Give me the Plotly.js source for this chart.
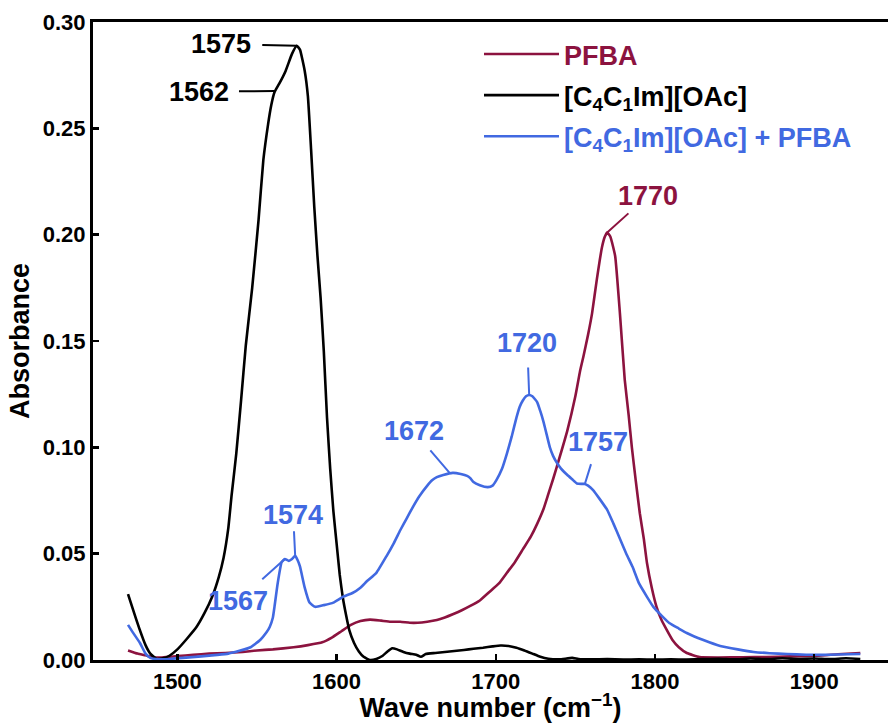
<!DOCTYPE html>
<html>
<head>
<meta charset="utf-8">
<script src="https://cdn.plot.ly/plotly-3.0.1.min.js"></script>
<style>html,body{margin:0;padding:0;background:#fff;}#chart{width:888px;height:723px;}</style>
</head>
<body>
<div id="chart"></div>
<script>
// ---- Data ----
const seriesNames = ["PFBA", "[C<sub>4</sub>C<sub>1</sub>Im][OAc]", "[C<sub>4</sub>C<sub>1</sub>Im][OAc] + PFBA"];
const seriesColors = ["#8C133F", "#000000", "#4169E1"];

const pfbaX = [1469,1475,1480,1485,1490,1495,1500,1510,1520,1530,1541,1550,1560,1573,1582,1591,1597,1603,1609,1615,1621,1628,1634,1640,1646,1651,1657,1663,1668,1673,1679,1684,1690,1696,1702,1707,1712,1717,1722,1726,1730,1733,1736,1740,1745,1750,1753,1755,1758,1760.5,1763.5,1766.7,1768.5,1770,1772,1775,1778,1781,1783.5,1785.5,1788,1790.5,1793,1795,1798,1801,1804,1807.5,1811,1815,1820,1828,1840,1855,1870,1885,1902,1915,1929];
const pfbaY = [0.0045,0.003,0.0022,0.0012,0.0012,0.0015,0.0018,0.0024,0.003,0.0033,0.0038,0.0045,0.005,0.006,0.007,0.0083,0.0105,0.0135,0.0165,0.0183,0.019,0.0185,0.018,0.018,0.0175,0.0175,0.018,0.0188,0.020,0.0215,0.0235,0.0254,0.028,0.032,0.036,0.041,0.046,0.052,0.058,0.064,0.071,0.078,0.085,0.095,0.108,0.124,0.136,0.1425,0.153,0.163,0.179,0.194,0.199,0.201,0.199,0.190,0.163,0.132,0.115,0.100,0.084,0.069,0.057,0.0456,0.034,0.025,0.019,0.014,0.0094,0.006,0.0033,0.0014,0.0012,0.0013,0.0014,0.0017,0.002,0.0027,0.0033];

const ilX = [1469,1472,1476,1480,1483,1487,1491,1495,1500,1506,1512,1517,1522,1526,1529,1532,1534,1537,1540,1543,1547,1551,1554,1557,1559,1561,1564,1568,1572,1575,1577,1580,1582,1584,1586,1588,1590,1592,1594,1596,1598,1600,1602,1604,1606,1608,1611,1614,1617,1621,1625,1629,1632,1635,1638,1642,1646,1650,1653,1656,1662,1668,1674,1680,1686,1692,1698,1703,1708,1713,1718,1723,1728,1733,1740,1748,1752,1760,1770,1780,1790,1800,1810,1820,1830,1840,1850,1860,1870,1880,1890,1900,1910,1920,1929];
const ilY = [0.031,0.024,0.015,0.007,0.003,0.0005,0.0008,0.002,0.005,0.010,0.0155,0.022,0.030,0.039,0.048,0.062,0.077,0.097,0.122,0.148,0.175,0.207,0.235,0.252,0.261,0.267,0.271,0.277,0.285,0.2888,0.287,0.277,0.265,0.240,0.213,0.190,0.170,0.145,0.114,0.090,0.070,0.055,0.040,0.029,0.021,0.014,0.008,0.004,0.0015,0.0,0.0005,0.002,0.004,0.0055,0.005,0.0038,0.003,0.0025,0.0015,0.0028,0.0033,0.0038,0.0042,0.0047,0.0053,0.0058,0.0064,0.0068,0.0066,0.0058,0.0045,0.003,0.0015,0.0006,0.0003,0.001,0.0005,0.0003,0.0004,0.0002,0.0003,0.0002,0.0003,0.0002,0.0004,0.0006,0.0003,0.0007,0.0004,0.0008,0.0005,0.0007,0.0004,0.0008,0.0005];

const mixX = [1469,1472,1476.5,1480,1483,1488,1495,1503.5,1515,1525,1532,1539,1546,1552,1556,1558,1560,1561,1563,1565.5,1567.5,1570,1572,1574,1575.5,1577,1580,1583,1586.5,1592,1598,1604,1610,1615,1619,1625,1631.5,1636,1640,1644,1648,1652,1657,1660,1663,1667,1673,1678,1682,1684,1686,1690,1695,1698,1700.5,1704,1707,1710,1713,1715,1717,1719,1721,1723,1726,1728,1730,1732,1734,1736,1738.5,1741,1745,1748,1751,1754,1756,1758,1761,1765,1770,1774,1778,1782,1786,1790,1795,1799,1804,1809,1815,1820,1830,1841,1852,1862,1872,1883,1895,1904,1915,1929];
const mixY = [0.0165,0.013,0.008,0.003,0.001,0.0003,0.0005,0.001,0.0017,0.0024,0.003,0.0043,0.006,0.0094,0.013,0.0155,0.020,0.025,0.036,0.046,0.0475,0.0466,0.0475,0.049,0.047,0.044,0.034,0.027,0.025,0.0258,0.027,0.0297,0.0315,0.034,0.037,0.041,0.049,0.055,0.061,0.0665,0.072,0.077,0.082,0.0845,0.086,0.087,0.088,0.0875,0.0866,0.0855,0.0837,0.0822,0.0813,0.082,0.0847,0.090,0.097,0.105,0.114,0.119,0.122,0.124,0.1246,0.124,0.1213,0.117,0.112,0.106,0.100,0.096,0.0926,0.090,0.087,0.085,0.083,0.0828,0.0828,0.082,0.080,0.076,0.0706,0.064,0.057,0.050,0.0437,0.036,0.0297,0.025,0.021,0.0174,0.0148,0.0127,0.0095,0.0066,0.005,0.0038,0.0032,0.0028,0.0025,0.0024,0.0026,0.0028];

// Peak labels: text, wavenumber, absorbance, series index
const peakText = ["1575","1562","1574","1567","1672","1720","1757","1770"];
const peakX    = [1575, 1561, 1574, 1567.5, 1671, 1721, 1756, 1770];
const peakY    = [0.2888, 0.2676, 0.049, 0.0475, 0.088, 0.1246, 0.0828, 0.201];
const peakSeries = [1,1,2,2,2,2,2,0];

const xTicks = [1500,1600,1700,1800,1900];
const yTicks = [0,0.05,0.10,0.15,0.20,0.25,0.30];

// ---- Layout helpers (label offsets in px) ----
const peakAx = [-76,-75,-2,-47,-36,-2,13,41];
const peakAy = [-2,1,-41,42,-42,-52,-42,-37];
const peakTailGap = [10,8,0,8,4,8,6,2];

const FONT = "Liberation Sans, Arial, Helvetica, sans-serif";

const xs = [pfbaX, ilX, mixX];
const ys = [pfbaY, ilY, mixY];
const traces = xs.map((x, i) => ({
  x: x, y: ys[i], type: "scatter", mode: "lines",
  name: '<span style="color:' + seriesColors[i] + '">' + seriesNames[i] + '</span>',
  legendgroup: "g" + i,
  line: {color: seriesColors[i], width: 2.6, shape: "spline", smoothing: 0.4}
}));

const annotations = peakText.map((t, i) => ({
  x: peakX[i], y: peakY[i], xref: "x", yref: "y",
  text: t, showarrow: true, arrowside: "end+start", arrowhead: 0, startarrowhead: 0,
  arrowwidth: 2, arrowcolor: seriesColors[peakSeries[i]],
  ax: peakAx[i], ay: peakAy[i], standoff: 0, startstandoff: peakTailGap[i], borderpad: 1,
  font: {family: FONT, size: 27, color: seriesColors[peakSeries[i]], weight: "bold"}
}));

const layout = {
  width: 888, height: 723,
  margin: {l: 93, r: 0, t: 22, b: 63},
  paper_bgcolor: "#fff", plot_bgcolor: "#fff",
  showlegend: true,
  legend: {
    x: (479 - 93) / 795, y: 1 - (30 - 22) / 638, xanchor: "left", yanchor: "top",
    itemwidth: 75, tracegroupgap: 3,
    font: {family: FONT, size: 27, color: "#000", weight: "bold"},
    bgcolor: "rgba(0,0,0,0)"
  },
  xaxis: {
    range: [1447, 1946.4], tickvals: xTicks, ticktext: xTicks.map(String),
    ticks: "inside", ticklen: 6, tickwidth: 2.5, tickcolor: "#000",
    showline: true, linewidth: 3, linecolor: "#000", mirror: true,
    showgrid: false, zeroline: false,
    tickfont: {family: FONT, size: 22, color: "#000", weight: "bold"},
    title: {text: "Wave number (cm<sup>\u22121</sup>)", standoff: 4,
            font: {family: FONT, size: 27, color: "#000", weight: "bold"}}
  },
  yaxis: {
    range: [0, 0.30], tickvals: yTicks, ticktext: yTicks.map(v => v.toFixed(2)),
    ticks: "inside", ticklen: 6, tickwidth: 2.5, tickcolor: "#000",
    showline: true, linewidth: 3, linecolor: "#000", mirror: false,
    showgrid: false, zeroline: false,
    tickfont: {family: FONT, size: 22, color: "#000", weight: "bold"},
    title: {text: "Absorbance", standoff: 6,
            font: {family: FONT, size: 27, color: "#000", weight: "bold"}}
  },
  annotations: annotations
};

Plotly.newPlot("chart", traces, layout, {displayModeBar: false, staticPlot: true});
</script>
</body>
</html>
